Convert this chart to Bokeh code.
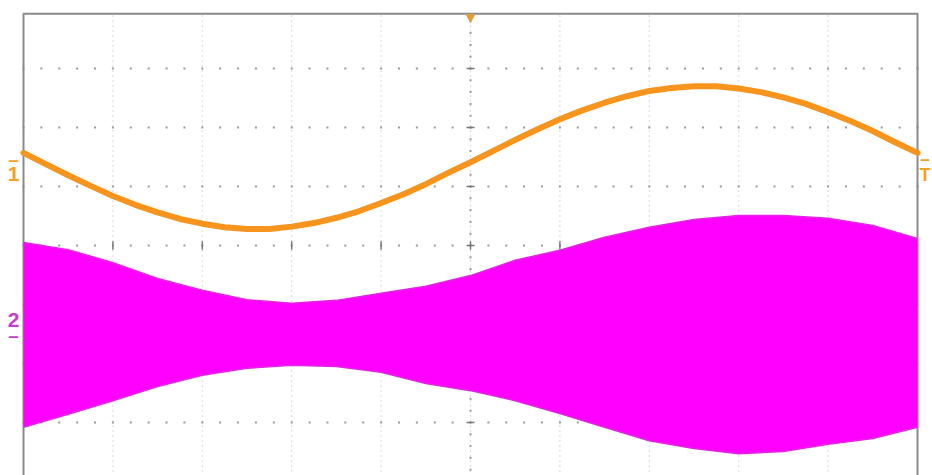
import numpy as np
from bokeh.plotting import figure
from bokeh.models import Range1d
from bokeh.core.properties import value
from bokeh.embed import file_html
from bokeh.resources import INLINE

# ---- data (divisions; 10 horizontal divisions, centre line = 0) ----
ch1_time_div = [0.0, 0.25, 0.5, 0.75, 1.0, 1.25, 1.5, 1.75, 2.0, 2.25, 2.5, 2.75, 3.0, 3.25,
                3.5, 3.75, 4.0, 4.25, 4.5, 4.75, 5.0, 5.25, 5.5, 5.75, 6.0, 6.25, 6.5, 6.75,
                7.0, 7.25, 7.5, 7.75, 8.0, 8.25, 8.5, 8.75, 9.0, 9.25, 9.5, 9.75, 10.0]
ch1_div = [1.57, 1.38, 1.19, 1.01, 0.84, 0.69, 0.56, 0.45, 0.37, 0.31, 0.28, 0.28, 0.32, 0.38,
           0.47, 0.58, 0.72, 0.87, 1.04, 1.23, 1.41, 1.60, 1.79, 1.97, 2.14, 2.29, 2.42, 2.53,
           2.62, 2.67, 2.70, 2.70, 2.66, 2.60, 2.51, 2.40, 2.26, 2.11, 1.94, 1.75, 1.57]
ch2_time_div = [0.0, 0.5, 1.0, 1.5, 2.0, 2.5, 3.0, 3.5, 4.0, 4.5, 5.0,
                5.5, 6.0, 6.5, 7.0, 7.5, 8.0, 8.5, 9.0, 9.5, 10.0]
ch2_upper_div = [0.05, -0.07, -0.29, -0.56, -0.76, -0.92, -0.98, -0.93, -0.81, -0.69, -0.51,
                 -0.25, -0.08, 0.14, 0.31, 0.44, 0.51, 0.51, 0.46, 0.34, 0.12]
ch2_lower_div = [-3.08, -2.86, -2.63, -2.39, -2.20, -2.08, -2.03, -2.05, -2.15, -2.34, -2.46,
                 -2.63, -2.85, -3.08, -3.31, -3.44, -3.53, -3.49, -3.37, -3.27, -3.08]
ch1_ground = 1.46
ch2_ground = -1.53
trigger_level = 1.46
trigger_pos = 5.0
x_major = [0, 1, 2, 3, 4, 5, 6, 7, 8, 9, 10]
y_major = [-3, -2, -1, 0, 1, 2, 3]
screen_top = 3.93
screen_bottom = -4.0

ORANGE = "#f7941d"
MAGENTA = "#ff00ff"
GRID = "#9a9a9a"

W, H = 932, 475
PX_X, PX_Y = 89.4, 59.0       # pixels per division
X0, Y0 = 23, 245              # pixel position of (0 div, 0 div)

p = figure(width=W, height=H,
           x_range=Range1d(-X0 / PX_X, (W - X0) / PX_X),
           y_range=Range1d((Y0 - H) / PX_Y, Y0 / PX_Y),
           output_backend="svg", toolbar_location=None,
           x_axis_type=None, y_axis_type=None,
           min_border=0, outline_line_color=None,
           background_fill_color="white", border_fill_color="white")
p.grid.visible = False

# vertical dotted grid lines
inner_x = x_major[1:-1]
p.segment(x0=inner_x, y0=[screen_bottom] * len(inner_x), x1=inner_x, y1=[screen_top] * len(inner_x),
          line_color="#b4b4b4", line_dash="1 4", line_width=1)

# horizontal dotted rows (dots every 1/5 division)
minor_x = np.arange(0, 10.001, 0.2)
hx, hy = [], []
for yv in y_major:
    hx.extend(minor_x)
    hy.extend([yv] * len(minor_x))
p.scatter(hx, hy, marker="square", size=2, color=GRID, line_color=None)

# centre vertical line minor dots
minor_y = np.arange(-3.8, 3.9, 0.2)
p.scatter([5.0] * len(minor_y), minor_y, marker="square", size=2, color=GRID, line_color=None)

# major ticks on centre cross
p.segment(x0=inner_x, y0=[-0.07] * len(inner_x), x1=inner_x, y1=[0.07] * len(inner_x),
          line_color="#7a7a7a", line_width=1.5)
p.segment(x0=[4.955] * len(y_major), y0=y_major, x1=[5.045] * len(y_major), y1=y_major,
          line_color="#7a7a7a", line_width=1.5)

# screen border (left, top, right)
p.line([0, 0, 10, 10], [screen_bottom, screen_top, screen_top, screen_bottom],
       line_color="#8a8a8a", line_width=2)

# channel 2 (dense AM carrier, drawn as its envelope)
p.varea(x=ch2_time_div, y1=ch2_lower_div, y2=ch2_upper_div, fill_color=MAGENTA)
p.line(ch2_time_div, ch2_upper_div, line_color="#e424e4", line_width=1.5)
p.line(ch2_time_div, ch2_lower_div, line_color="#e424e4", line_width=1.5)

# channel 1
p.line(ch1_time_div, ch1_div, line_color=ORANGE, line_width=6,
       line_join="round", line_cap="round")

# trigger position marker
p.scatter([trigger_pos], [screen_top - 0.06], marker="inverted_triangle", size=10,
          color="#e0a030", line_color=None)

# channel markers
def lab(x, y, t, color, size="21px"):
    p.text(x=[x], y=[y], text=[t], text_color=color, text_font=value("Liberation Sans"),
           text_font_style="bold", text_font_size=size,
           text_align="center", text_baseline="middle")

lab(-0.112, ch1_ground, "\u2013", "#f5a020", "19px")
lab(-0.112, ch1_ground - 0.25, "1", "#f5a020")
lab(-0.112, ch2_ground + 0.27, "2", "#c23fc9")
lab(-0.112, ch2_ground, "\u2013", "#c23fc9", "19px")
lab(10.085, trigger_level, "\u2013", "#f5a020", "17px")
lab(10.085, trigger_level - 0.27, "T", "#f5a020", "18px")

open("out.html", "w").write(file_html(p, INLINE))
